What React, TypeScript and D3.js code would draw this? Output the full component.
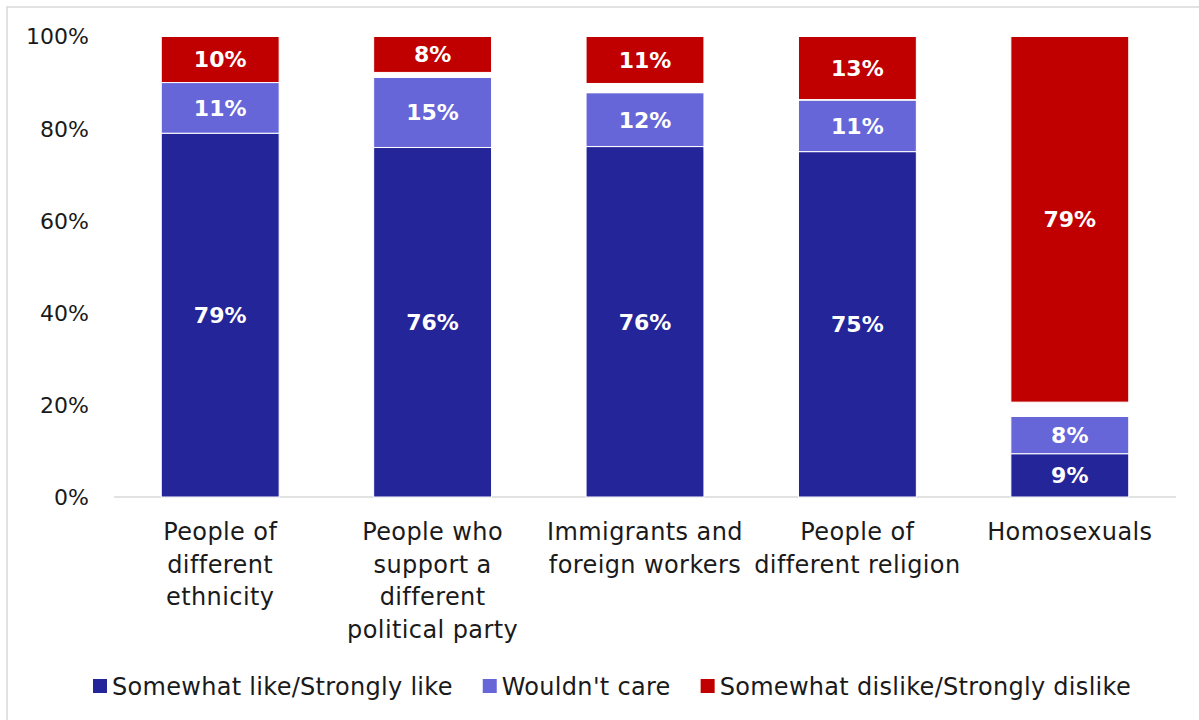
import React, { useEffect, useRef } from "react";
import * as d3 from "d3";

const categories = [
  ["People of", "different", "ethnicity"],
  ["People who", "support a", "different", "political party"],
  ["Immigrants and", "foreign workers"],
  ["People of", "different religion"],
  ["Homosexuals"],
];
const likeValues = [79, 75.9, 76.1, 75, 9.4];
const careValues = [11, 15.2, 11.7, 11.2, 8.1];
const noAnswerValues = [0, 1.1, 2, 0.1, 3.1];
const dislikeValues = [10, 7.8, 10.2, 13.7, 79.4];
const likeLabels = ["79%", "76%", "76%", "75%", "9%"];
const careLabels = ["11%", "15%", "12%", "11%", "8%"];
const dislikeLabels = ["10%", "8%", "11%", "13%", "79%"];
const yTicks = [0, 20, 40, 60, 80, 100];
const legendNames = ["Somewhat like/Strongly like", "Wouldn't care", "Somewhat dislike/Strongly dislike"];

const COLORS = { like: "#25259a", care: "#6666d9", noAnswer: "#ffffff", dislike: "#c00000" };
const FONT = "'DejaVu Sans', sans-serif";

export default function App() {
  const ref = useRef<SVGSVGElement>(null);

  useEffect(() => {
    const svg = d3.select(ref.current);
    svg.selectAll("*").remove();

    const W = 1199, H = 720;
    svg.append("rect").attr("width", W).attr("height", H).attr("fill", "#fff");
    svg.append("rect").attr("x", 7).attr("y", 7).attr("width", W + 20).attr("height", H + 20)
      .attr("fill", "none").attr("stroke", "#d9d9d9").attr("stroke-width", 1.5);

    const x = d3.scaleBand<number>().domain(d3.range(categories.length)).range([114, 1176]).paddingInner(0.445).paddingOuter(0.2225);
    const y = d3.scaleLinear().domain([0, 100]).range([497, 36.5]);

    const keys = ["like", "care", "noAnswer", "dislike"] as const;
    const rows = categories.map((_, i) => ({
      i,
      like: likeValues[i],
      care: careValues[i],
      noAnswer: noAnswerValues[i],
      dislike: dislikeValues[i],
    }));
    const stack = d3.stack<any>().keys(keys as any)(rows);
    const labelMap: Record<string, string[]> = { like: likeLabels, care: careLabels, dislike: dislikeLabels };

    // axis line
    svg.append("line").attr("x1", 114).attr("x2", 1176).attr("y1", y(0)).attr("y2", y(0))
      .attr("stroke", "#d9d9d9").attr("stroke-width", 1.5);

    stack.forEach((layer) => {
      const key = layer.key;
      const g = svg.append("g");
      g.selectAll("rect").data(layer).join("rect")
        .attr("x", (d: any) => x(d.data.i)!)
        .attr("width", x.bandwidth())
        .attr("y", (d: any) => y(d[1]))
        .attr("height", (d: any) => Math.max(0, y(d[0]) - y(d[1])))
        .attr("fill", (COLORS as any)[key])
        .attr("stroke", "#fff").attr("stroke-width", 1);
      if (labelMap[key]) {
        g.selectAll("text").data(layer).join("text")
          .attr("x", (d: any) => x(d.data.i)! + x.bandwidth() / 2)
          .attr("y", (d: any) => (y(d[0]) + y(d[1])) / 2)
          .attr("dy", "0.36em")
          .attr("text-anchor", "middle")
          .attr("font-family", FONT).attr("font-weight", "bold").attr("font-size", 22)
          .attr("fill", "#fff")
          .text((d: any) => labelMap[key][d.data.i]);
      }
    });

    // y axis labels
    svg.append("g").selectAll("text").data(yTicks).join("text")
      .attr("x", 89).attr("y", (d) => y(d)).attr("dy", "0.36em")
      .attr("text-anchor", "end").attr("font-family", FONT).attr("font-size", 22)
      .attr("fill", "#1a1a1a").text((d) => `${d}%`);

    // category labels
    const cg = svg.append("g");
    categories.forEach((lines, i) => {
      const t = cg.append("text").attr("text-anchor", "middle").attr("font-family", FONT)
        .attr("font-size", 24).attr("letter-spacing", 0.4).attr("fill", "#1a1a1a");
      lines.forEach((ln, j) => {
        t.append("tspan").attr("x", x(i)! + x.bandwidth() / 2).attr("y", 540 + j * 32.6).text(ln);
      });
    });

    // legend
    const lg = svg.append("g");
    const legendColors = [COLORS.like, COLORS.care, COLORS.dislike];
    const items = legendNames.map((name, i) => {
      const gi = lg.append("g");
      gi.append("rect").attr("width", 14).attr("height", 14).attr("y", -7).attr("fill", legendColors[i]);
      const t = gi.append("text").attr("x", 19).attr("dy", "0.36em").attr("font-family", FONT)
        .attr("font-size", 24).attr("letter-spacing", 0.3).attr("fill", "#1a1a1a").text(name);
      const w = 19 + ((t.node() as SVGTextElement).getComputedTextLength?.() ?? 300);
      return { gi, w };
    });
    const gap = 30;
    const total = d3.sum(items, (d) => d.w) + gap * (items.length - 1);
    let cx = 612 - total / 2;
    items.forEach((it) => {
      it.gi.attr("transform", `translate(${cx},686)`);
      cx += it.w + gap;
    });
  }, []);

  return (
    <svg ref={ref} width={1199} height={720}
      style={{ position: "absolute", left: 0, top: 0, display: "block" }} />
  );
}
